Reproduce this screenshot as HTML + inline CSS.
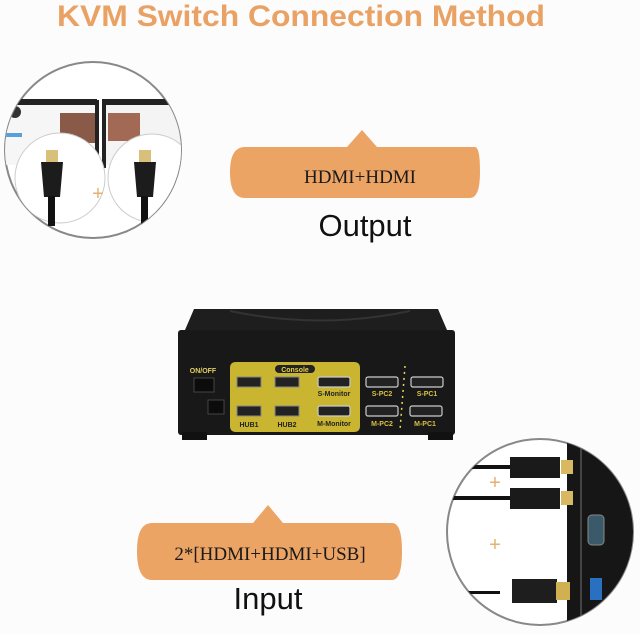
<!DOCTYPE html>
<html><head><meta charset="utf-8"><style>html,body{margin:0;padding:0;background:#fff}svg{display:block}</style></head>
<body>
<svg width="640" height="634" viewBox="0 0 640 634" xmlns="http://www.w3.org/2000/svg" font-family="Liberation Sans, sans-serif">
<rect width="640" height="634" fill="#fcfcfc"/>
<text x="57" y="26" font-size="30" font-weight="bold" fill="#e9a264" textLength="488" lengthAdjust="spacingAndGlyphs">KVM Switch Connection Method</text>

<!-- left circle -->
<defs>
<clipPath id="c1"><circle cx="93" cy="150" r="88"/></clipPath>
<clipPath id="c2"><circle cx="540" cy="532" r="93"/></clipPath>
</defs>
<circle cx="93" cy="150" r="88" fill="#fff" stroke="#888" stroke-width="2"/>
<g clip-path="url(#c1)">
  <rect x="0" y="99" width="97" height="6" fill="#222"/>
  <rect x="0" y="105" width="97" height="60" fill="#f6f6f6"/>
  <rect x="95" y="100" width="4" height="68" fill="#222"/>
  <rect x="102" y="99" width="90" height="6" fill="#222"/>
  <rect x="102" y="105" width="90" height="60" fill="#f4f4f4"/>
  <rect x="102" y="100" width="4" height="68" fill="#222"/>
  <rect x="60" y="113" width="35" height="30" fill="#8a5a48"/>
  <rect x="108" y="113" width="32" height="28" fill="#a26a55"/>
  <rect x="6" y="133" width="16" height="4" fill="#5aa0d8"/>
  <circle cx="15" cy="112" r="6" fill="#333"/>
  <circle cx="60" cy="178" r="45" fill="#fff" stroke="#ccc"/>
  <circle cx="152" cy="178" r="44" fill="#fff" stroke="#ccc"/>
  <rect x="46" y="150" width="12" height="12" fill="#d8c07a"/>
  <path d="M41 162h22l-3 35h-16z" fill="#1c1c1c"/>
  <rect x="48" y="196" width="7" height="30" fill="#111"/>
  <rect x="139" y="150" width="12" height="12" fill="#d8c07a"/>
  <path d="M134 162h22l-3 35h-16z" fill="#1c1c1c"/>
  <rect x="141" y="196" width="7" height="30" fill="#111"/>
  <text x="98" y="200" font-size="20" fill="#e5b070" text-anchor="middle">+</text>
</g>

<!-- output callout -->
<path d="M245 147 H347 L362 130 L377 147 H475 Q480 147 480 172 Q480 198 470 198 H245 Q230 198 230 172 Q230 147 245 147 Z" fill="#eca465"/>
<text x="360" y="183" font-family="Liberation Serif, serif" font-size="19" fill="#1a1a1a" text-anchor="middle">HDMI+HDMI</text>
<text x="365" y="236" font-size="31" fill="#111" text-anchor="middle">Output</text>

<!-- KVM box -->
<path d="M194 309 H438 L447 330 H185 Z" fill="#1e1e1e"/>
<path d="M230 311 Q320 330 410 311" fill="none" stroke="#333" stroke-width="2"/>
<rect x="178" y="330" width="277" height="105" rx="3" fill="#181818"/>
<rect x="182" y="432" width="25" height="8" fill="#111"/>
<rect x="428" y="432" width="25" height="8" fill="#111"/>
<path d="M236 362 H354 Q360 362 360 368 V426 Q360 432 354 432 H236 Q230 432 230 426 V368 Q230 362 236 362 Z" fill="#c9b530"/>
<rect x="275" y="365" width="40" height="8" rx="4" fill="#222"/>
<text x="295" y="372" font-size="7" font-weight="bold" fill="#e8d34a" text-anchor="middle">Console</text>
<text x="203" y="373" font-size="7" font-weight="bold" fill="#e0d060" text-anchor="middle">ON/OFF</text>
<rect x="194" y="378" width="20" height="14" fill="#0c0c0c" stroke="#444"/>
<rect x="208" y="400" width="16" height="14" fill="#0c0c0c" stroke="#444"/>
<rect x="237" y="377" width="24" height="10" fill="#222" stroke="#888"/>
<rect x="275" y="377" width="24" height="10" fill="#222" stroke="#888"/>
<rect x="237" y="406" width="24" height="10" fill="#222" stroke="#888"/>
<rect x="275" y="406" width="24" height="10" fill="#222" stroke="#888"/>
<text x="249" y="427" font-size="7" font-weight="bold" fill="#222" text-anchor="middle">HUB1</text>
<text x="287" y="427" font-size="7" font-weight="bold" fill="#222" text-anchor="middle">HUB2</text>
<g fill="#222" stroke="#ccc" stroke-width="1.2">
<rect x="318" y="377" width="32" height="10" rx="2"/>
<rect x="318" y="406" width="32" height="10" rx="2"/>
<rect x="366" y="377" width="32" height="10" rx="2"/>
<rect x="411" y="377" width="32" height="10" rx="2"/>
<rect x="366" y="406" width="32" height="10" rx="2"/>
<rect x="410" y="406" width="32" height="10" rx="2"/>
</g>
<text x="334" y="396" font-size="7" font-weight="bold" fill="#222" text-anchor="middle">S-Monitor</text>
<text x="334" y="426" font-size="7" font-weight="bold" fill="#222" text-anchor="middle">M-Monitor</text>
<g font-size="7" font-weight="bold" fill="#d8c040" text-anchor="middle">
<text x="382" y="396">S-PC2</text><text x="427" y="396">S-PC1</text>
<text x="382" y="426">M-PC2</text><text x="425" y="426">M-PC1</text>
</g>
<line x1="405" y1="366" x2="400" y2="430" stroke="#e8d860" stroke-width="1.5" stroke-dasharray="2 4"/>

<!-- right circle -->
<circle cx="540" cy="532" r="93" fill="#fff" stroke="#888" stroke-width="2"/>
<g clip-path="url(#c2)">
  <rect x="567" y="430" width="80" height="200" fill="#161616"/>
  <rect x="580" y="430" width="2" height="200" fill="#444"/>
  <rect x="440" y="465" width="75" height="4" fill="#111"/>
  <path d="M510 457 H560 V478 H510 Z" fill="#1a1a1a"/>
  <rect x="561" y="460" width="12" height="14" fill="#d8b860"/>
  <rect x="440" y="496" width="75" height="4" fill="#111"/>
  <path d="M510 488 H560 V509 H510 Z" fill="#1a1a1a"/>
  <rect x="561" y="491" width="12" height="14" fill="#d8b860"/>
  <rect x="588" y="515" width="16" height="30" rx="4" fill="#3a5a6a" stroke="#888"/>
  <rect x="440" y="591" width="60" height="3" fill="#111"/>
  <rect x="512" y="579" width="45" height="24" fill="#1e1e1e"/>
  <rect x="556" y="582" width="14" height="18" fill="#d0b050"/>
  <rect x="590" y="578" width="12" height="22" fill="#2a70c0"/>
  <text x="495" y="489" font-size="20" fill="#e5b070" text-anchor="middle">+</text>
  <text x="495" y="551" font-size="20" fill="#e5b070" text-anchor="middle">+</text>
</g>

<!-- input callout -->
<path d="M152 523 H253 L268 505 L283 523 H392 Q402 523 402 551 Q402 580 392 580 H152 Q137 580 137 551 Q137 523 152 523 Z" fill="#eca465"/>
<text x="270" y="560" font-family="Liberation Serif, serif" font-size="19" fill="#1a1a1a" text-anchor="middle">2*[HDMI+HDMI+USB]</text>
<text x="268" y="609" font-size="31" fill="#111" text-anchor="middle">Input</text>
</svg>
</body></html>
